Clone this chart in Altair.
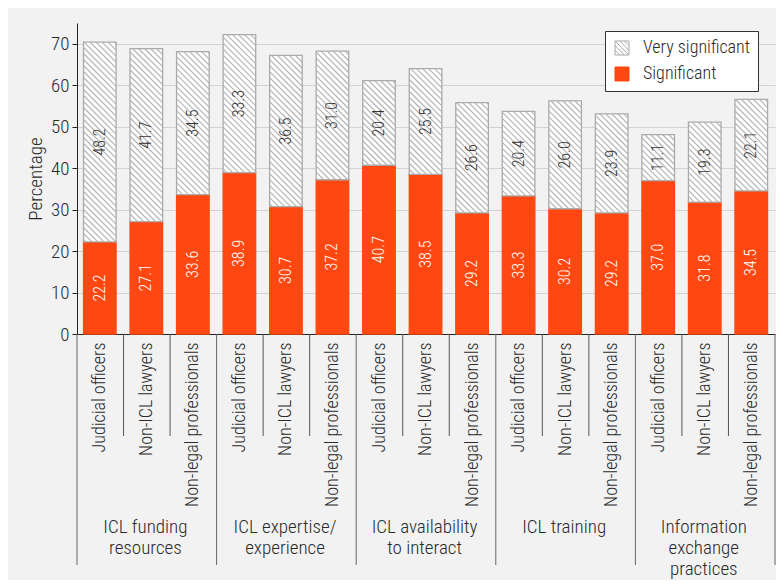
import json
import altair as alt
import pandas as pd

# ---------------- data ----------------
groups = ["ICL funding\nresources", "ICL expertise/\nexperience",
          "ICL availability\nto interact", "ICL training",
          "Information\nexchange\npractices"]
respondents = ["Judicial officers", "Non-ICL lawyers", "Non-legal professionals"]
significant = [22.2, 27.1, 33.6,
               38.9, 30.7, 37.2,
               40.7, 38.5, 29.2,
               33.3, 30.2, 29.2,
               37.0, 31.8, 34.5]
very_significant = [48.2, 41.7, 34.5,
                    33.3, 36.5, 31.0,
                    20.4, 25.5, 26.6,
                    20.4, 26.0, 23.9,
                    11.1, 19.3, 22.1]
series = ["Very significant", "Significant"]

# ---------------- layout constants ----------------
W, H = 698, 311
YMAX = 75
NB = len(significant)
SX = W / NB
SY = H / YMAX
FONT = "Liberation Sans Narrow, Roboto Condensed, DejaVu Sans Condensed, Liberation Sans"
FW = 300
TXT = "#2a2a2a"
RED = "#ff4811"
HATCH = "#b3b3b3"

# ---------------- tables ----------------
rows = []
for i, (s, v) in enumerate(zip(significant, very_significant)):
    rows.append(dict(i=i, x0=i + 0.14, x1=i + 0.84, xc=i + 0.49, series="Significant",
                     y0=0.0, y1=s, mid=s / 2, value=s))
    rows.append(dict(i=i, x0=i + 0.14, x1=i + 0.84, xc=i + 0.49, series="Very significant",
                     y0=s, y1=s + v, mid=s + v / 2, value=v))
bars = pd.DataFrame(rows)

# hatch lines (45 deg, screen space) clipped to each "very significant" segment
hatch = []
STEP = 6.0
for i, (s, v) in enumerate(zip(significant, very_significant)):
    X0, X1 = (i + 0.14) * SX, (i + 0.84) * SX
    ytop, ybot = H - (s + v) * SY, H - s * SY
    k_lo = int((ytop - X1) // STEP) - 1
    k_hi = int((ybot - X0) // STEP) + 1
    for k in range(k_lo, k_hi + 1):
        c = k * STEP
        lo = max(X0, ytop - c)
        hi = min(X1, ybot - c)
        if hi - lo > 0.3:
            hatch.append(dict(hx=lo / SX, hy=(H - (lo + c)) / SY,
                              hx2=hi / SX, hy2=(H - (hi + c)) / SY))
hatch = pd.DataFrame(hatch)

inner_sep = pd.DataFrame({"b": [b for b in range(1, NB) if b % 3 != 0]})
group_sep = pd.DataFrame({"b": list(range(0, NB + 1, 3))})
group_df = pd.DataFrame({"label": groups, "gx": [g * 3 + 1.47 for g in range(len(groups))]})

xscale = alt.Scale(domain=[0, NB], nice=False, zero=False)
yscale = alt.Scale(domain=[0, YMAX], nice=False)

label_expr = json.dumps(respondents) + "[floor(datum.value) % 3]"

legend_path = ("M-1,-1H1V1H-1Z M-1,-1L1,1 M-1,-0.33L0.33,1 M-1,0.33L-0.33,1 "
               "M-0.33,-1L1,0.33 M0.33,-1L1,-0.33")
leg = dict(title=None, orient="none", legendX=528, legendY=8, symbolType=legend_path,
           symbolSize=196, symbolStrokeWidth=1, fillColor="white", strokeColor="#333",
           padding=8, rowPadding=8, labelFont=FONT, labelFontSize=18, labelColor=TXT,
           labelFontWeight=FW, labelOffset=12)

base = alt.Chart(bars)

bar_layer = base.mark_bar(strokeWidth=1.3).encode(
    x=alt.X("x0:Q", scale=xscale,
            axis=alt.Axis(values=[i + 0.49 for i in range(NB)], labelExpr=label_expr,
                          labelAngle=270, ticks=False, grid=False, title=None,
                          labelPadding=8, labelFont=FONT, labelFontSize=18,
                          labelFontWeight=FW, labelColor=TXT, labelOverlap=False,
                          labelFlush=False, domainColor="#222")),
    x2="x1:Q",
    y=alt.Y("y0:Q", scale=yscale,
            axis=alt.Axis(values=list(range(0, 71, 10)), title="Percentage",
                          titleFont=FONT, titleFontSize=19, titleFontWeight=FW,
                          titleColor=TXT, titlePadding=5, labelFont=FONT,
                          labelFontSize=19, labelFontWeight=FW, labelColor=TXT,
                          tickSize=5, tickColor="#222", domainColor="#222",
                          labelPadding=3, gridColor="#d2d2d2", gridWidth=1)),
    y2="y1:Q",
    fill=alt.Fill("series:N", scale=alt.Scale(domain=series, range=["white", RED]),
                  legend=alt.Legend(**leg)),
    stroke=alt.Stroke("series:N", scale=alt.Scale(domain=series, range=["#a9a9a9", RED]),
                      legend=alt.Legend(**leg)),
)

hatch_layer = alt.Chart(hatch).mark_rule(color=HATCH, strokeWidth=1.2).encode(
    x="hx:Q", y="hy:Q", x2="hx2:Q", y2="hy2:Q")

text_layer = base.mark_text(angle=270, align="center", baseline="middle",
                            font=FONT, fontSize=16, fontWeight=FW).encode(
    x="xc:Q", y="mid:Q",
    text=alt.Text("value:Q", format=".1f"),
    color=alt.condition(alt.datum.series == "Significant",
                        alt.value("white"), alt.value("#333")))

inner_layer = alt.Chart(inner_sep).mark_rule(color="#555", strokeWidth=1).encode(
    x="b:Q", y=alt.value(H), y2=alt.value(H + 102))
group_layer = alt.Chart(group_sep).mark_rule(color="#666", strokeWidth=1).encode(
    x="b:Q", y=alt.value(H), y2=alt.value(H + 231))

glabel_layer = alt.Chart(group_df).mark_text(
    lineBreak="\n", baseline="top", align="center", font=FONT, fontSize=19,
    fontWeight=FW, lineHeight=21, color=TXT).encode(
    x="gx:Q", y=alt.value(H + 184), text="label:N")

chart = alt.layer(bar_layer, hatch_layer, text_layer, inner_layer, group_layer,
                  glabel_layer).properties(
    width=W, height=H,
    autosize=alt.AutoSizeParams(type="none"),
    padding={"left": 69, "top": 15, "right": 1, "bottom": 246},
    background="#f2f2f2",
).configure_view(stroke=None)

chart.save("out.html", embed_options={"renderer": "svg", "actions": False})
